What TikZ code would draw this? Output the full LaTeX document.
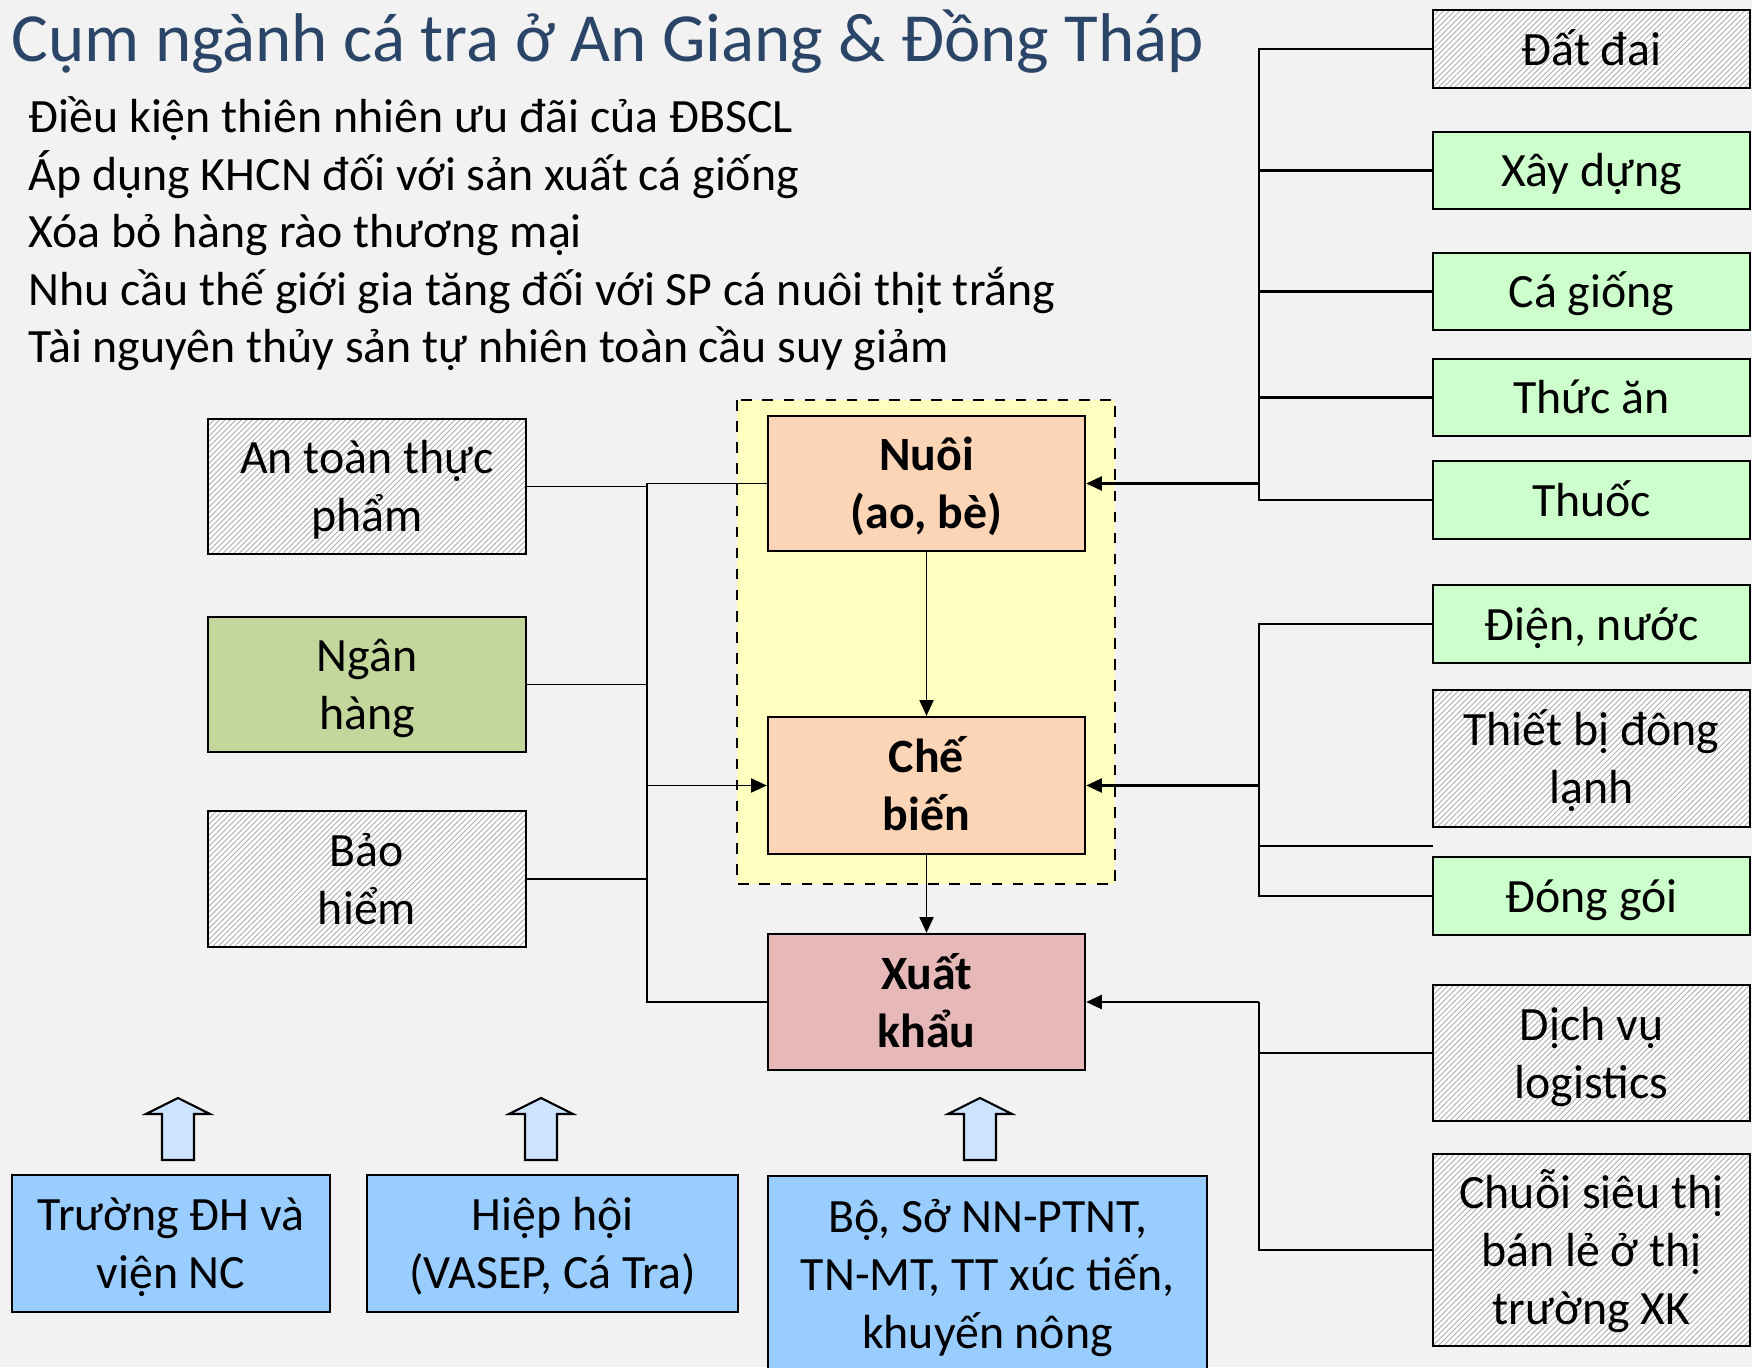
\documentclass[tikz,border=0pt]{standalone}
\usepackage{fontspec}
\setmainfont{Carlito}
\usetikzlibrary{arrows.meta}
\usetikzlibrary{patterns.meta}
\definecolor{bggray}{HTML}{F2F2F2}
\definecolor{titleblue}{HTML}{2A4567}
\definecolor{supgreen}{HTML}{CCFFCC}
\definecolor{bankgreen}{HTML}{C3D69B}
\definecolor{corepeach}{HTML}{FBD5B5}
\definecolor{exportpink}{HTML}{E6B9B8}
\definecolor{zoneyellow}{HTML}{FFFFC0}
\definecolor{instblue}{HTML}{99CCFF}
\definecolor{arrowblue}{HTML}{CCE4FF}

\tikzset{
  box/.style={draw=black, line width=0.6pt, inner sep=0pt, align=center,
    font=\fontsize{13.6}{16.5}\selectfont, text height=13pt, text depth=3.8pt},
  lines2/.style={text height=29.5pt},
  lines3/.style={text height=46pt},
  hatchbox/.style={box, preaction={fill=white},
    pattern={Lines[angle=45,distance=1.1pt,line width=0.25pt]}, pattern color=black!32},
  greenbox/.style={box, fill=supgreen},
  corebox/.style={box, lines2, fill=corepeach, font=\fontsize{13.6}{16.5}\selectfont\bfseries},
  instbox/.style={box, fill=instblue},
  bulletline/.style={anchor=base west, inner sep=0pt, font=\fontsize{13.6}{16.5}\selectfont},
  conn/.style={line width=0.5pt},
  bus/.style={line width=0.7pt},
  arr/.style={-{Triangle[length=4.5pt,width=4pt]}}
}

\begin{document}
\begin{tikzpicture}[x=0.01cm, y=-0.01cm]
  \useasboundingbox (0,0) rectangle (1752,1367);
  \clip (0,0) rectangle (1752,1367);
  \fill[bggray] (0,0) rectangle (1752,1367);

  % title and conditions
  \node[anchor=base west, inner sep=0pt, text=titleblue, font=\fontsize{19.6}{23}\selectfont]
    (title) at (11,62) {Cụm ngành cá tra ở An Giang \& Đồng Tháp};
  \foreach \txt [count=\i] in {Điều kiện thiên nhiên ưu đãi của ĐBSCL,
      Áp dụng KHCN đối với sản xuất cá giống,
      Xóa bỏ hàng rào thương mại,
      Nhu cầu thế giới gia tăng đối với SP cá nuôi thịt trắng,
      Tài nguyên thủy sản tự nhiên toàn cầu suy giảm}
    \node[bulletline] (b\i) at (28,{133+57.5*(\i-1)}) {\txt};

  % core chain
  \draw[fill=zoneyellow, dashed, line width=0.5pt] (737,400) rectangle (1115,884);
  \node[corebox, minimum width=3.17cm, minimum height=1.35cm] (nuoi) at (926.5,483.5) {Nuôi\\(ao, bè)};
  \node[corebox, minimum width=3.17cm, minimum height=1.37cm] (che) at (926.5,785.5) {Chế\\biến};
  \node[corebox, fill=exportpink, minimum width=3.17cm, minimum height=1.36cm] (xuat) at (926.5,1002) {Xuất\\khẩu};

  % left supporting boxes
  \node[hatchbox, lines2, minimum width=3.18cm, minimum height=1.35cm] (an) at (367,486.5) {An toàn thực\\phẩm};
  \node[box, lines2, fill=bankgreen, minimum width=3.18cm, minimum height=1.35cm] (ngan) at (367,684.5) {Ngân\\hàng};
  \node[hatchbox, lines2, minimum width=3.18cm, minimum height=1.36cm] (bao) at (367,879) {Bảo\\hiểm};

  % right suppliers
  \node[hatchbox, minimum width=3.17cm, minimum height=0.78cm] (dat) at (1591.5,49) {Đất đai};
  \node[greenbox, minimum width=3.17cm, minimum height=0.77cm] (xay) at (1591.5,170.5) {Xây dựng};
  \node[greenbox, minimum width=3.17cm, minimum height=0.77cm] (ca) at (1591.5,291.5) {Cá giống};
  \node[greenbox, minimum width=3.17cm, minimum height=0.77cm] (thuc) at (1591.5,397.5) {Thức ăn};
  \node[greenbox, minimum width=3.17cm, minimum height=0.78cm] (thuoc) at (1591.5,500) {Thuốc};
  \node[greenbox, minimum width=3.17cm, minimum height=0.78cm] (dien) at (1591.5,624) {Điện, nước};
  \node[hatchbox, lines2, minimum width=3.17cm, minimum height=1.37cm] (thiet) at (1591.5,758.5) {Thiết bị đông\\lạnh};
  \node[greenbox, minimum width=3.17cm, minimum height=0.78cm] (dong) at (1591.5,896) {Đóng gói};
  \node[hatchbox, lines2, minimum width=3.17cm, minimum height=1.36cm] (dich) at (1591.5,1053) {Dịch vụ\\logistics};
  \node[hatchbox, lines3, minimum width=3.17cm, minimum height=1.92cm] (chuoi) at (1591.5,1250) {Chuỗi siêu thị\\bán lẻ ở thị\\trường XK};

  % institutions
  \node[instbox, lines2, minimum width=3.18cm, minimum height=1.37cm] (truong) at (171,1243.5) {Trường ĐH và\\viện NC};
  \node[instbox, lines2, minimum width=3.71cm, minimum height=1.37cm] (hiep) at (552.5,1243.5) {Hiệp hội\\(VASEP, Cá Tra)};
  \node[instbox, lines3, minimum width=4.39cm, minimum height=1.96cm] (bo) at (987.5,1274) {Bộ, Sở NN-PTNT,\\TN-MT, TT xúc tiến,\\khuyến nông};
  \foreach \cx in {178,541,980}
    \draw[fill=arrowblue, line width=0.6pt] (\cx,1098) -- ++(32,16) -- ++(-16,0) -- ++(0,46)
      -- ++(-32,0) -- ++(0,-46) -- ++(-16,0) -- cycle;

  % connectors
  \coordinate (jl) at (647,785.5);
  \coordinate (jr1) at (1259,483.5);
  \coordinate (jr2) at (1259,785.5);
  \coordinate (jr3) at (1259,1002);
  \coordinate (stub) at (1433,846);

  \draw[conn] (nuoi.west) -| (jl) |- (xuat.west);
  \foreach \n in {an,ngan,bao}
    \draw[conn] (\n.east) -- (\n.east -| jl);
  \draw[conn,arr] (jl) -- (che.west);
  \draw[conn,arr] (nuoi) -- (che);
  \draw[conn,arr] (che) -- (xuat);

  \draw[bus] (dat.west) -| (jr1) |- (thuoc.west);
  \foreach \n in {xay,ca,thuc}
    \draw[bus] (\n.west) -- (\n.west -| jr1);
  \draw[bus,arr] (jr1) -- (nuoi.east);

  \draw[bus] (dien.west) -| (jr2) |- (dong.west);
  \draw[bus] (jr2 |- stub) -- (stub);
  \draw[bus,arr] (jr2) -- (che.east);

  \draw[bus] (chuoi.west) -| (jr3);
  \draw[bus,arr] (jr3) -- (xuat.east);
  \draw[bus] (dich.west) -- (dich.west -| jr3);
\end{tikzpicture}
\end{document}
